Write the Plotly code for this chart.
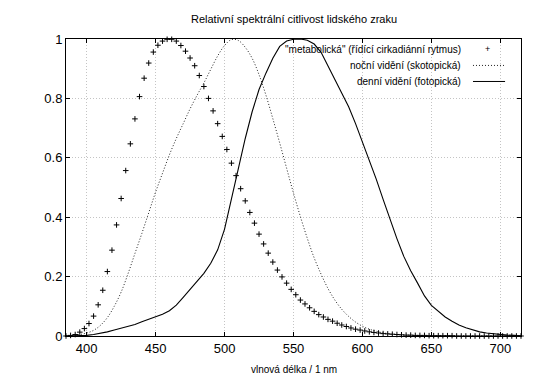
import plotly.graph_objects as go

wavelength = [385, 390, 395, 400, 405, 410, 415, 420, 425, 430, 435, 440, 445, 450, 455,
              460, 465, 470, 475, 480, 485, 490, 495, 500, 505, 510, 515, 520, 525, 530,
              535, 540, 545, 550, 555, 560, 565, 570, 575, 580, 585, 590, 595, 600, 605,
              610, 615, 620, 625, 630, 635, 640, 645, 650, 655, 660, 665, 670, 675, 680,
              685, 690, 695, 700, 705, 710, 715]

scotopic = [0.001, 0.002, 0.005, 0.010, 0.019, 0.036, 0.062, 0.100, 0.148, 0.210,
            0.278, 0.345, 0.415, 0.485, 0.548, 0.610, 0.665, 0.715, 0.765, 0.810,
            0.852, 0.898, 0.943, 0.978, 0.998, 0.995, 0.972, 0.935, 0.880, 0.811,
            0.732, 0.650, 0.565, 0.481, 0.402, 0.329, 0.263, 0.208, 0.160, 0.121,
            0.090, 0.066, 0.047, 0.033, 0.023, 0.016, 0.011, 0.007, 0.005, 0.003,
            0.002, 0.0015, 0.001, 0.0007, 0.0005, 0.0003, 0.0002, 0.0002, 0.0001, 0.0001,
            0.0001, 0.0, 0.0, 0.0, 0.0, 0.0, 0.0]

photopic = [0.000, 0.000, 0.001, 0.002, 0.005, 0.009, 0.014, 0.020, 0.026, 0.032,
            0.039, 0.048, 0.057, 0.064, 0.073, 0.085, 0.104, 0.130, 0.157, 0.183,
            0.211, 0.245, 0.290, 0.360, 0.465, 0.570, 0.665, 0.755, 0.830, 0.885,
            0.935, 0.975, 0.993, 0.999, 1.000, 0.996, 0.983, 0.955, 0.910, 0.860,
            0.815, 0.772, 0.715, 0.655, 0.592, 0.528, 0.460, 0.390, 0.328, 0.268,
            0.220, 0.178, 0.135, 0.103, 0.082, 0.064, 0.050, 0.037, 0.028, 0.020,
            0.014, 0.010, 0.007, 0.005, 0.003, 0.002, 0.001]

melanopic_wl = [385.00, 388.33, 391.67, 395.00, 398.33, 401.67, 405.00, 408.33, 411.67, 415.00,
                418.33, 421.67, 425.00, 428.33, 431.67, 435.00, 438.33, 441.67, 445.00, 448.33,
                451.67, 455.00, 458.33, 461.67, 465.00, 468.33, 471.67, 475.00, 478.33, 481.67,
                485.00, 488.33, 491.67, 495.00, 498.33, 501.67, 505.00, 508.33, 511.67, 515.00,
                518.33, 521.67, 525.00, 528.33, 531.67, 535.00, 538.33, 541.67, 545.00, 548.33,
                551.67, 555.00, 558.33, 561.67, 565.00, 568.33, 571.67, 575.00, 578.33, 581.67,
                585.00, 588.33, 591.67, 595.00, 598.33, 601.67, 605.00, 608.33, 611.67, 615.00,
                618.33, 621.67, 625.00, 628.33, 631.67, 635.00, 638.33, 641.67, 645.00, 648.33,
                651.67, 655.00, 658.33, 661.67, 665.00, 668.33, 671.67, 675.00, 678.33, 681.67,
                685.00, 688.33, 691.67, 695.00, 698.33, 701.67, 705.00, 708.33, 711.67, 715.00]

melanopic = [0.000, 0.002, 0.005, 0.013, 0.025, 0.042, 0.067, 0.105, 0.154, 0.217,
             0.289, 0.374, 0.463, 0.557, 0.647, 0.731, 0.806, 0.868, 0.919, 0.956,
             0.979, 0.993, 0.999, 0.999, 0.993, 0.978, 0.959, 0.936, 0.910, 0.877,
             0.840, 0.800, 0.758, 0.715, 0.672, 0.628, 0.582, 0.540, 0.496, 0.455,
             0.416, 0.380, 0.343, 0.310, 0.279, 0.249, 0.222, 0.199, 0.178, 0.157,
             0.139, 0.121, 0.108, 0.095, 0.083, 0.072, 0.064, 0.056, 0.050, 0.043,
             0.037, 0.032, 0.027, 0.023, 0.020, 0.017, 0.014, 0.012, 0.010, 0.008,
             0.007, 0.006, 0.005, 0.004, 0.003, 0.003, 0.002, 0.002, 0.002, 0.001,
             0.001, 0.001, 0.001, 0.001, 0.001, 0.000, 0.000, 0.000, 0.000, 0.000,
             0.000, 0.000, 0.000, 0.000, 0.000, 0.000, 0.000, 0.000, 0.000, 0.000]

x_ticks = [400, 450, 500, 550, 600, 650, 700]
y_ticks = [0, 0.2, 0.4, 0.6, 0.8, 1]

title = "Relativní spektrální citlivost lidského zraku"
x_title = "vlnová délka / 1 nm"
legend_labels = ['"metabolická" (řídící cirkadiánní rytmus)',
                 "noční vidění (skotopická)",
                 "denní vidění (fotopická)"]

FONT = "Liberation Sans, Arial, sans-serif"
DOT = "1px,2px"

fig = go.Figure()
fig.add_trace(go.Scatter(x=wavelength, y=photopic, mode="lines",
                         line=dict(color="black", width=1.1), showlegend=False))
fig.add_trace(go.Scatter(x=wavelength, y=scotopic, mode="lines", line_shape="spline",
                         line=dict(color="#222", width=1, dash=DOT), showlegend=False))
fig.add_trace(go.Scatter(x=melanopic_wl, y=melanopic, mode="markers", cliponaxis=False,
                         marker=dict(symbol="cross-thin", size=4,
                                     line=dict(color="black", width=1)),
                         showlegend=False))

grid = dict(showgrid=True, gridcolor="#c4c4c4", griddash=DOT, gridwidth=1,
            zeroline=False, showline=True, linecolor="black", linewidth=1,
            mirror="ticks", ticks="inside", ticklen=4, tickcolor="black",
            tickfont=dict(family=FONT, size=13, color="black"))

fig.update_xaxes(range=[385, 715], tickvals=x_ticks, **grid)
fig.update_yaxes(range=[0, 1], tickvals=y_ticks, ticktext=["0", "0.2", "0.4", "0.6", "0.8", "1"],
                 **grid)

annotations = [
    dict(text=title, x=0.5, y=1.0, xref="paper", yref="paper", yshift=20,
         showarrow=False, font=dict(family=FONT, size=11, color="black"),
         xanchor="center", yanchor="middle"),
    dict(text=x_title, x=0.5, y=0, xref="paper", yref="paper", yshift=-33,
         showarrow=False, font=dict(family=FONT, size=10, color="black"),
         xanchor="center", yanchor="middle"),
]
row_y = [0.965, 0.911, 0.857]
for lbl, ry in zip(legend_labels, row_y):
    annotations.append(dict(text=lbl, x=0.8725, y=ry, xref="paper", yref="paper",
                            showarrow=False, xanchor="right", yanchor="middle",
                            font=dict(family=FONT, size=10, color="black")))
annotations.append(dict(text="+", x=0.926, y=row_y[0], xref="paper", yref="paper",
                        showarrow=False, xanchor="center", yanchor="middle",
                        font=dict(family=FONT, size=9, color="black")))

shapes = [
    dict(type="line", xref="paper", yref="paper", x0=0.8945, x1=0.965,
         y0=row_y[1], y1=row_y[1], line=dict(color="#222", width=1, dash=DOT)),
    dict(type="line", xref="paper", yref="paper", x0=0.8945, x1=0.965,
         y0=row_y[2], y1=row_y[2], line=dict(color="black", width=1)),
]

# the page body adds an 8px offset; margins compensate so the plot area lands at 66..521 x 39..336
fig.update_layout(width=540, height=378, margin=dict(l=58, r=27, t=31, b=50),
                  paper_bgcolor="white", plot_bgcolor="white",
                  annotations=annotations, shapes=shapes, showlegend=False,
                  font=dict(family=FONT, color="black"))

fig.write_html("out.html")
